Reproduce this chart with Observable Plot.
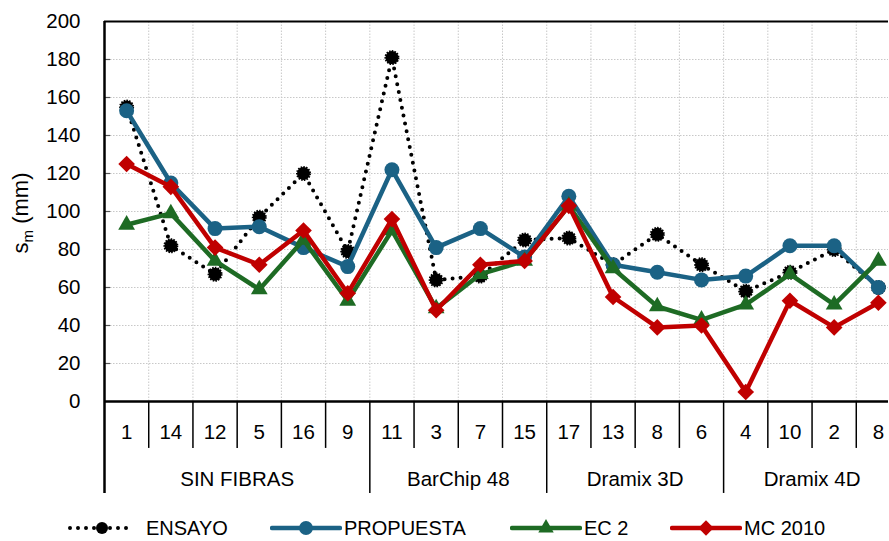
<!DOCTYPE html>
<html>
<head>
<meta charset="utf-8">
<script src="https://cdn.jsdelivr.net/npm/d3@7"></script>
<script src="https://cdn.jsdelivr.net/npm/@observablehq/plot@0.6"></script>
<style>
  html, body { margin: 0; padding: 0; background: #fff; }
  body { width: 889px; height: 541px; overflow: hidden; font-family: "Liberation Sans", Arial, sans-serif; }
  #legend { position: relative; height: 41px; font-size: 20px; color: #000; }
  .item { display: flex; align-items: center; position: absolute; }
</style>
</head>
<body>
<div id="chart"></div>
<div id="legend"></div>
<script>
// ---- data ----
const categories = ["1","14","12","5","16","9","11","3","7","15","17","13","8","6","4","10","2","8"];
const groupNames = ["SIN FIBRAS","BarChip 48","Dramix 3D","Dramix 4D"];
const groupSizes = [6, 4, 4, 4];
const yTicks = [0,20,40,60,80,100,120,140,160,180,200];
const seriesNames = ["ENSAYO","PROPUESTA","EC 2","MC 2010"];
const ensayo    = [155, 82, 67, 97, 120, 79, 181, 64, 66, 85, 86, 72, 88, 72, 58, 68, 80, 60];
const propuesta = [153, 115, 91, 92, 81, 71, 122, 81, 91, 76, 108, 72, 68, 64, 66, 82, 82, 60];
const ec2       = [93, 99, 74, 59, 85, 53, 90, 49, 67, 74, 103, 70, 50, 43, 51, 67, 51, 74];
const mc2010    = [125, 113, 81, 72, 90, 57, 96, 48, 72, 74, 103, 55, 39, 40, 5, 53, 39, 52];

// ---- derived tables ----
const seriesValues = [ensayo, propuesta, ec2, mc2010];
const rows = seriesNames.flatMap((s, k) => seriesValues[k].map((v, i) => ({serie: s, i, v})));
const catRows = categories.map((c, i) => ({c, i}));
const groupStarts = groupSizes.map((n, k) => d3.sum(groupSizes.slice(0, k)));
const groupRows = groupNames.map((g, k) => ({g, start: groupStarts[k], mid: groupStarts[k] + groupSizes[k] / 2}));
const boundaries = d3.range(0, categories.length + 1);
const innerBoundaries = boundaries.slice(1, -1);
const catDividers = boundaries.filter(b => !groupStarts.includes(b) && b < categories.length);

const style = {
  "ENSAYO":    {color: "#000000", symbol: "circle",   r: 6.5},
  "PROPUESTA": {color: "#1b6285", symbol: "circle",   r: 7.5},
  "EC 2":      {color: "#1e6b24", symbol: "triangle2", r: 8},
  "MC 2010":   {color: "#c00000", symbol: "diamond2", r: 7.5}
};
const font = "'Liberation Sans', Arial, sans-serif";
const fs = 20.5;
const catDepth = -24.7, groupDepth = -48.4;

const marks = [
  Plot.gridY(yTicks.filter(t => t > 0 && t < 200), {stroke: "#c8c8c8", strokeOpacity: 1, strokeDasharray: "1.5,1.5"}),
  Plot.ruleX(innerBoundaries, {y1: 0, y2: 200, stroke: "#c8c8c8", strokeOpacity: 1, strokeDasharray: "1.5,1.5"}),
  Plot.ruleY(yTicks.filter(t => t > 0 && t < 200), {x1: 0, x2: 0.14, stroke: "#555", strokeWidth: 1.2}),
  Plot.axisY(yTicks, {tickSize: 0, tickPadding: 24, fontSize: fs, fill: "#000", label: null}),
  Plot.ruleY([200], {stroke: "#000", strokeWidth: 2}),
  Plot.ruleY([0], {stroke: "#000", strokeWidth: 2.5}),
  Plot.ruleX(catDividers, {y1: 0, y2: catDepth, stroke: "#000", strokeWidth: 1.5}),
  Plot.ruleX(groupStarts.slice(1), {y1: 0, y2: groupDepth, stroke: "#000", strokeWidth: 1.5}),
  Plot.ruleX([0], {y1: groupDepth, y2: 200, stroke: "#000", strokeWidth: 2.5}),
  Plot.text(catRows, {x: d => d.i + 0.5, y: catDepth / 2, dy: 7, text: "c", fontSize: fs, fill: "#000"}),
  Plot.text(groupRows, {x: "mid", y: (catDepth + groupDepth) / 2, dy: 8, text: "g", fontSize: fs, fill: "#000"})
];

for (const s of seriesNames) {
  const data = rows.filter(r => r.serie === s);
  const st = style[s];
  if (s === "ENSAYO") {
    marks.push(Plot.line(data, {x: d => d.i + 0.5, y: "v", stroke: st.color, strokeWidth: 4, strokeDasharray: "0,8", strokeLinecap: "round"}));
  } else {
    marks.push(Plot.line(data, {x: d => d.i + 0.5, y: "v", stroke: st.color, strokeWidth: 4.5, strokeLinejoin: "miter"}));
  }
  marks.push(Plot.dot(data, {x: d => d.i + 0.5, y: "v", symbol: st.symbol, r: st.r, fill: st.color,
    stroke: st.color, strokeWidth: s === "ENSAYO" ? 2 : 0, strokeDasharray: s === "ENSAYO" ? "1.5,1.2" : null}));
}

const chart = Plot.plot({
  width: 889,
  height: 505,
  marginLeft: 104,
  marginRight: 1,
  marginTop: 21,
  marginBottom: 104,
  x: {domain: [0, categories.length], range: [104, 900], axis: null},
  y: {domain: [0, 200], axis: null},
  style: {fontFamily: font, fontSize: fs + "px", color: "#000", background: "#fff"},
  marks
});
document.getElementById("chart").appendChild(chart);

// y axis label with subscript
const svg = d3.select(chart);
const lbl = svg.append("text")
  .attr("transform", "translate(28,213) rotate(-90)")
  .attr("text-anchor", "middle")
  .attr("font-family", font)
  .attr("font-size", 22)
  .attr("fill", "#000");
lbl.append("tspan").text("s");
lbl.append("tspan").attr("font-size", 15).attr("dy", 5).text("m");
lbl.append("tspan").attr("dy", -5).text(" (mm)");

// legend
const legend = d3.select("#legend");
const items = [
  {name: "ENSAYO", left: 66},
  {name: "PROPUESTA", left: 270},
  {name: "EC 2", left: 510},
  {name: "MC 2010", left: 670}
];
items.forEach(it => {
  const st = style[it.name];
  const div = legend.append("div").attr("class", "item").style("left", it.left + "px").style("top", "11px");
  const sw = div.append("svg").attr("width", 72).attr("height", 24);
  if (it.name === "ENSAYO") {
    sw.append("line").attr("x1", 4).attr("x2", 68).attr("y1", 12).attr("y2", 12)
      .attr("stroke", "#000").attr("stroke-width", 4).attr("stroke-dasharray", "0,8").attr("stroke-linecap", "round");
  } else {
    sw.append("line").attr("x1", 2).attr("x2", 70).attr("y1", 12).attr("y2", 12)
      .attr("stroke", st.color).attr("stroke-width", 4.5).attr("stroke-linecap", "round");
  }
  const sym = {circle: d3.symbolCircle, triangle2: d3.symbolTriangle2, diamond2: d3.symbolDiamond2}[st.symbol];
  sw.append("path").attr("transform", "translate(36,12)")
    .attr("d", d3.symbol(sym, Math.PI * st.r * st.r * 0.85)())
    .attr("fill", st.color);
  div.append("span").style("margin-left", it.name === "ENSAYO" ? "8px" : "2px").text(it.name);
});
</script>
</body>
</html>
